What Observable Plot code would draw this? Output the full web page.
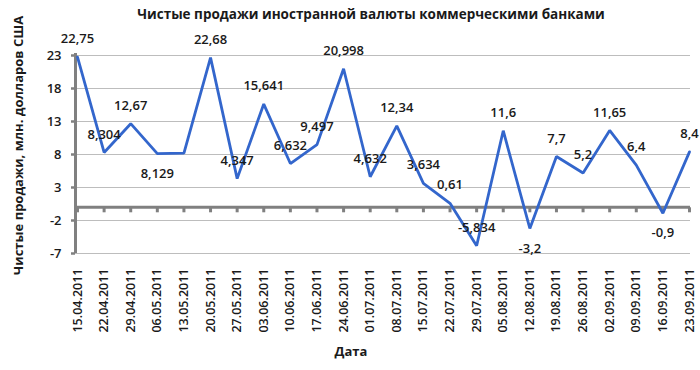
<!DOCTYPE html>
<html>
<head>
<meta charset="utf-8">
<script src="https://cdn.jsdelivr.net/npm/d3@7"></script>
<script src="https://cdn.jsdelivr.net/npm/@observablehq/plot@0.6"></script>
<style>
  body { margin: 0; background: #fff; font-family: "Open Sans", sans-serif; }
  #chart { position: relative; width: 700px; height: 370px; }
  #title { position: absolute; top: 0; left: 0; width: 742px; height: 28px; line-height: 28px; font-size: 13.5px; font-weight: 700; color: #1a1a1a; text-align: center; }
  #chart svg { position: absolute; top: 0; left: 0; }
</style>
</head>
<body>
<div id="chart">
</div>
<script>
// ---- data ----
const dates = ["15.04.2011","22.04.2011","29.04.2011","06.05.2011","13.05.2011","20.05.2011","27.05.2011","03.06.2011","10.06.2011","17.06.2011","24.06.2011","01.07.2011","08.07.2011","15.07.2011","22.07.2011","29.07.2011","05.08.2011","12.08.2011","19.08.2011","26.08.2011","02.09.2011","09.09.2011","16.09.2011","23.09.2011"];
const values = [22.75, 8.304, 12.67, 8.129, 8.2, 22.68, 4.347, 15.641, 6.632, 9.497, 20.998, 4.632, 12.34, 3.634, 0.61, -5.834, 11.6, -3.2, 7.7, 5.2, 11.65, 6.4, -0.9, 8.4];
const labeled = [true, true, true, true, false, true, true, true, true, true, true, true, true, true, true, true, true, true, true, true, true, true, true, true];
const yTicks = [23, 18, 13, 8, 3, -2, -7];
const title = "Чистые продажи иностранной валюты коммерческими банками";
const yTitle = "Чистые продажи, млн. долларов США";
const xTitle = "Дата";

// ---- chart ----
const data = dates.map((d, i) => ({date: d, value: values[i], labeled: labeled[i], text: String(values[i]).replace(".", ",")}));
const belowSet = new Set(["06.05.2011", "12.08.2011", "16.09.2011"]);
const above = data.filter(d => d.labeled && !belowSet.has(d.date));
const below = data.filter(d => d.labeled && belowSet.has(d.date));

const tickDown = {draw(ctx) { ctx.moveTo(0, 0); ctx.lineTo(0, 5); }};
const textColor = "#1a1a1a";

const chart = Plot.plot({
  width: 700,
  height: 370,
  marginLeft: 75,
  marginRight: 10,
  marginTop: 55,
  marginBottom: 117,
  insetLeft: 2,
  insetRight: 1,
  style: {fontFamily: "Open Sans, sans-serif", fontSize: "13px", color: textColor, fontWeight: 600, overflow: "visible"},
  x: {type: "point", domain: dates, padding: 0, round: false},
  y: {domain: [-7, 23]},
  marks: [
    Plot.ruleY(yTicks, {stroke: "#bdbdbd", strokeWidth: 1}),
    Plot.axisY({ticks: yTicks, tickFormat: d => String(d), tickSize: 4, tickPadding: 10, stroke: "#808080", strokeWidth: 2.5, label: null, fontSize: 13, fontWeight: 600, fill: textColor}),
    Plot.axisX({tickRotate: -90, tickSize: 0, tickPadding: 15, label: null, fontSize: 12.5, fontWeight: 600, fill: textColor}),
    Plot.ruleY([0], {stroke: "#808080", strokeWidth: 3}),
    Plot.dot(dates, {x: d => d, y: () => 0, symbol: tickDown, stroke: "#808080", strokeWidth: 3, fill: "none"}),
    Plot.ruleX([dates[0]], {dx: -2, y1: -7, y2: 23.3, stroke: "#808080", strokeWidth: 3}),
    Plot.line(data, {x: "date", y: "value", stroke: "#3366cc", strokeWidth: 2.8, strokeLinejoin: "miter"}),
    Plot.text(above, {x: "date", y: "value", text: "text", dy: -18, fontSize: 13, fontWeight: 600, fill: textColor}),
    Plot.text(below, {x: "date", y: "value", text: "text", dy: 20, fontSize: 13, fontWeight: 600, fill: textColor}),
    Plot.text([yTitle], {frameAnchor: "left", textAnchor: "middle", rotate: -90, dx: -57, dy: -9, fontSize: 13, fontWeight: 700, fill: textColor}),
    Plot.text([xTitle], {frameAnchor: "bottom", textAnchor: "middle", dx: -32, dy: 102, fontSize: 13, fontWeight: 700, fill: textColor})
  ]
});
const container = document.getElementById("chart");
container.appendChild(chart);
const t = document.createElement("div");
t.id = "title";
t.textContent = title;
container.appendChild(t);
</script>
</body>
</html>
